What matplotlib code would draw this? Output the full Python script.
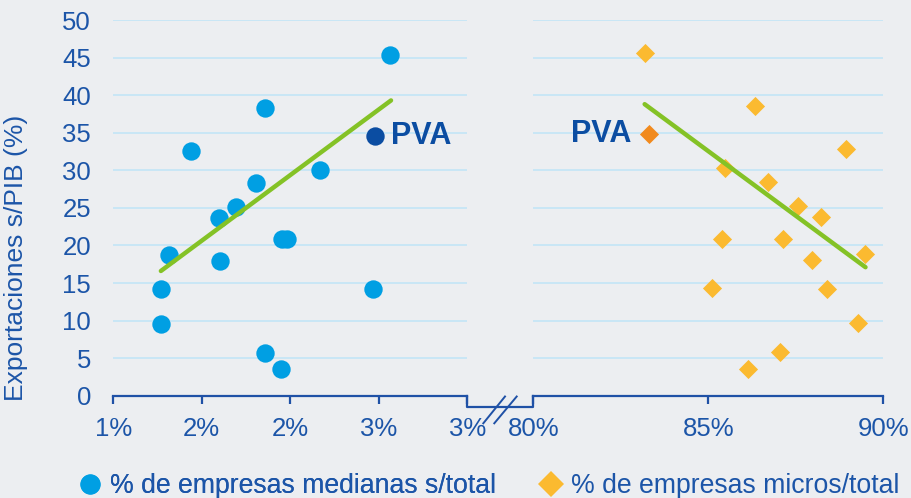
import numpy as np
import matplotlib
matplotlib.use("Agg")
from matplotlib import pyplot as plt
from matplotlib.ticker import FuncFormatter, MultipleLocator
from matplotlib.lines import Line2D

# medianas (% de empresas medianas s/total) vs exportaciones
med_x = [0.02565, 0.01859, 0.01439, 0.02170, 0.01806, 0.01691, 0.01597, 0.01951,
         0.01980, 0.01316, 0.01605, 0.01269, 0.02465, 0.01269, 0.01859, 0.01949]
med_y = [45.3, 38.3, 32.6, 30.1, 28.3, 25.1, 23.7, 20.8,
         20.8, 18.7, 17.9, 14.2, 14.2, 9.6, 5.7, 3.6]
med_pva = (0.02477, 34.6)
med_trend_x = [0.01269, 0.02569]
med_trend_y = [16.6, 39.3]

# micros (% de empresas micros/total) vs exportaciones
mic_x = [0.8318, 0.8633, 0.8893, 0.8548, 0.8670, 0.8755, 0.8821, 0.8538,
         0.8712, 0.8947, 0.8795, 0.8510, 0.8840, 0.8928, 0.8706, 0.8613]
mic_y = [45.6, 38.5, 32.8, 30.3, 28.5, 25.2, 23.8, 20.9,
         20.9, 18.9, 18.0, 14.3, 14.2, 9.7, 5.8, 3.6]
mic_pva = (0.8330, 34.8)
mic_trend_x = [0.8318, 0.8949]
mic_trend_y = [38.8, 17.1]

yticks = np.arange(0, 51, 5)
labels = ["% de empresas medianas s/total", "% de empresas micros/total"]

BG = "#ECEEF1"
TXT = "#1C55A8"
GRID = "#C3E5F6"
AXIS = "#1F51A6"
C_MED = "#009FE3"
C_PVA_MED = "#0B4DA2"
C_MIC = "#FBBA30"
C_PVA_MIC = "#F18A1E"
C_TREND = "#84C226"

plt.rcParams["font.family"] = ["Liberation Sans", "DejaVu Sans"]

fig = plt.figure(figsize=(9.12, 4.98), dpi=100, facecolor=BG)
ax1 = fig.add_axes([0.1242, 0.2054, 0.3882, 0.7544])
ax2 = fig.add_axes([0.5848, 0.2054, 0.3838, 0.7544])

# excel style rounding (half up)
pct = FuncFormatter(lambda v, pos: "%d%%" % int(np.floor(v * 100 + 0.5 + 1e-9)))


def style(ax, xlim, xstep):
    ax.set_facecolor(BG)
    ax.set_xlim(*xlim)
    ax.set_ylim(0, 50)
    ax.set_yticks(yticks)
    ax.xaxis.set_major_locator(MultipleLocator(xstep))
    ax.xaxis.set_major_formatter(pct)
    for s in ["top", "right", "left"]:
        ax.spines[s].set_visible(False)
    ax.spines["bottom"].set_color(AXIS)
    ax.spines["bottom"].set_linewidth(1.6)
    ax.tick_params(axis="x", direction="out", length=6, width=1.6, color=AXIS,
                   labelcolor=TXT, labelsize=18.5, pad=9)
    ax.tick_params(axis="y", length=0, labelcolor=TXT, labelsize=18.5, pad=16)
    ax.grid(axis="y", color=GRID, linewidth=1.2)
    ax.set_axisbelow(True)


style(ax1, (0.01, 0.03), 0.005)
style(ax2, (0.80, 0.90), 0.05)
ax2.tick_params(axis="y", labelleft=False)

ax1.scatter(med_x, med_y, s=175, color=C_MED, zorder=3, linewidths=0)
ax1.scatter([med_pva[0]], [med_pva[1]], s=175, color=C_PVA_MED, zorder=3, linewidths=0)
ax1.plot(med_trend_x, med_trend_y, color=C_TREND, lw=3.2, zorder=4, solid_capstyle="round")
ax1.text(med_pva[0] + 0.0009, med_pva[1], "PVA", color=C_PVA_MED, fontsize=22,
         fontweight="bold", va="center", ha="left")

ax2.scatter(mic_x, mic_y, s=95, marker="D", color=C_MIC, zorder=3, linewidths=0)
ax2.scatter([mic_pva[0]], [mic_pva[1]], s=95, marker="D", color=C_PVA_MIC, zorder=3, linewidths=0)
ax2.plot(mic_trend_x, mic_trend_y, color=C_TREND, lw=3.2, zorder=4, solid_capstyle="round")
ax2.text(mic_pva[0] - 0.0049, mic_pva[1], "PVA", color=C_PVA_MED, fontsize=22,
         fontweight="bold", va="center", ha="right")

ax1.set_ylabel("Exportaciones s/PIB (%)", color=TXT, fontsize=19)
ax1.yaxis.set_label_coords(-0.241, 0.366)

# axis break
W, H = 912, 498
def fx(p):
    return p / W
def fy(p):
    return 1 - p / H

x_l, x_r, y0, yb = 466.7, 533.3, 395.7, 407.3
fig.add_artist(Line2D([fx(x_l), fx(x_l), fx(x_r), fx(x_r)], [fy(y0), fy(yb), fy(yb), fy(y0)],
                      color=AXIS, lw=1.6, transform=fig.transFigure))
for x0, x1 in [(483.3, 505.0), (494.3, 516.7)]:
    fig.add_artist(Line2D([fx(x0), fx(x1)], [fy(423.3), fy(396.5)],
                          color=AXIS, lw=1.4, transform=fig.transFigure))

# legend, two entries placed separately
h_med = Line2D([], [], marker="o", ls="none", color=C_MED, markersize=14.5, markeredgewidth=0)
h_mic = Line2D([], [], marker="D", ls="none", color=C_MIC, markersize=13.5, markeredgewidth=0)
common = dict(loc="center left", frameon=False, fontsize=19.2, labelcolor=TXT,
              borderpad=0, borderaxespad=0, handlelength=1.0, handletextpad=0.22)
leg1 = fig.legend([h_med], [labels[0]], bbox_to_anchor=(fx(77), fy(486)), **common)
fig.legend([h_mic], [labels[1]], bbox_to_anchor=(fx(538), fy(486)), **common)
fig.add_artist(leg1)

fig.savefig("out.png", dpi=100, facecolor=BG)
